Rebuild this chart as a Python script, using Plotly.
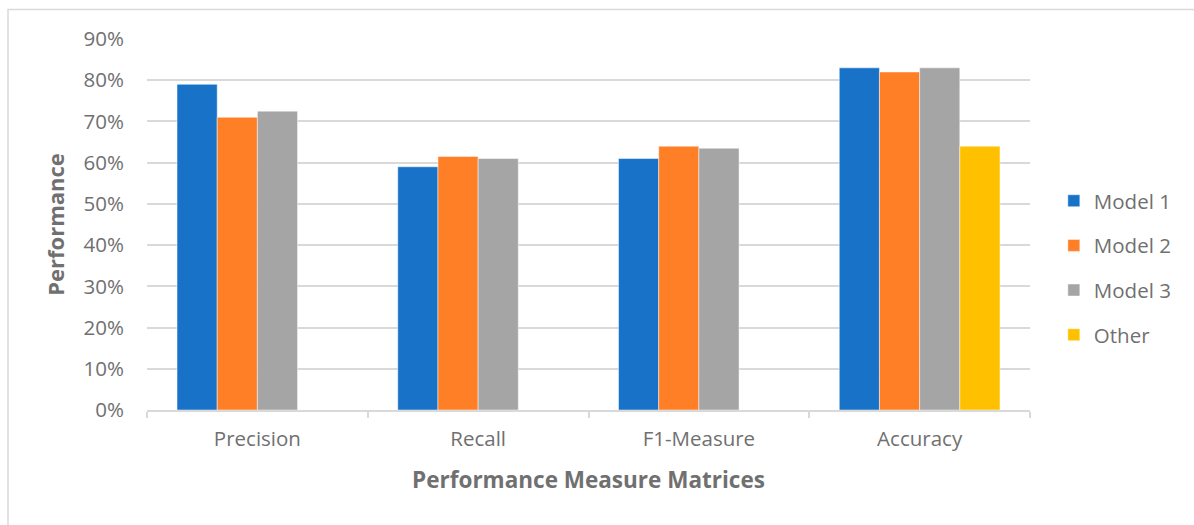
import plotly.graph_objects as go

categories = ["Precision", "Recall", "F1-Measure", "Accuracy"]
model1 = [0.79, 0.59, 0.61, 0.83]
model2 = [0.71, 0.615, 0.64, 0.82]
model3 = [0.725, 0.61, 0.635, 0.83]
other = [None, None, None, 0.64]
series_names = ["Model 1", "Model 2", "Model 3", "Other"]
colors = ["#1872C8", "#FF7F27", "#A5A5A5", "#FFC000"]
y_ticks = [0, 0.1, 0.2, 0.3, 0.4, 0.5, 0.6, 0.7, 0.8, 0.9]

FONT = "'Open Sans', Lato, sans-serif"
TEXT = "#707070"
GRID = "#d9d9d9"

fig = go.Figure()
for name, vals, col in zip(series_names, [model1, model2, model3, other], colors):
    fig.add_trace(go.Bar(
        x=categories, y=vals, name=name, legendgroup=name,
        marker=dict(color=col, line=dict(color="rgba(255,255,255,0.6)", width=0.8)),
    ))

fig.update_layout(
    width=1194, height=525,
    margin=dict(l=147, r=164, t=39, b=115),
    paper_bgcolor="white", plot_bgcolor="white",
    barmode="group", bargap=0.272, bargroupgap=0,
    font=dict(family=FONT, size=20.5, color=TEXT),
    legend=dict(
        x=1.027, y=0.383, xanchor="left", yanchor="middle",
        font=dict(family=FONT, size=20.5, color=TEXT),
        tracegroupgap=15, itemwidth=30,
    ),
    xaxis=dict(
        type="category", showgrid=False, showline=True, linecolor=GRID, linewidth=1.5,
        ticks="outside", tickson="boundaries", ticklen=6, tickcolor=GRID, tickwidth=1.5,
        ticklabelstandoff=10,
        tickfont=dict(family=FONT, size=20.5, color=TEXT),
        title=dict(text="<b>Performance Measure Matrices</b>", standoff=21,
                   font=dict(family=FONT, size=22.5, color=TEXT)),
    ),
    yaxis=dict(
        range=[0, 0.9], tickvals=y_ticks, tickformat=".0%",
        showgrid=True, gridcolor=GRID, gridwidth=1.5, zeroline=False, showline=False,
        ticks="", ticklabelstandoff=22,
        tickfont=dict(family=FONT, size=20.5, color=TEXT),
        title=dict(text="<b>Performance</b>", standoff=12,
                   font=dict(family=FONT, size=22, color=TEXT)),
    ),
    shapes=[dict(type="rect", xref="paper", yref="paper",
                 x0=(8 - 147) / 883, x1=(1210 - 147) / 883,
                 y0=(410 - 540) / 371, y1=(410 - 9.5) / 371,
                 line=dict(color=GRID, width=1.5), fillcolor="rgba(0,0,0,0)", layer="below")],
)

fig.write_html("out.html")
